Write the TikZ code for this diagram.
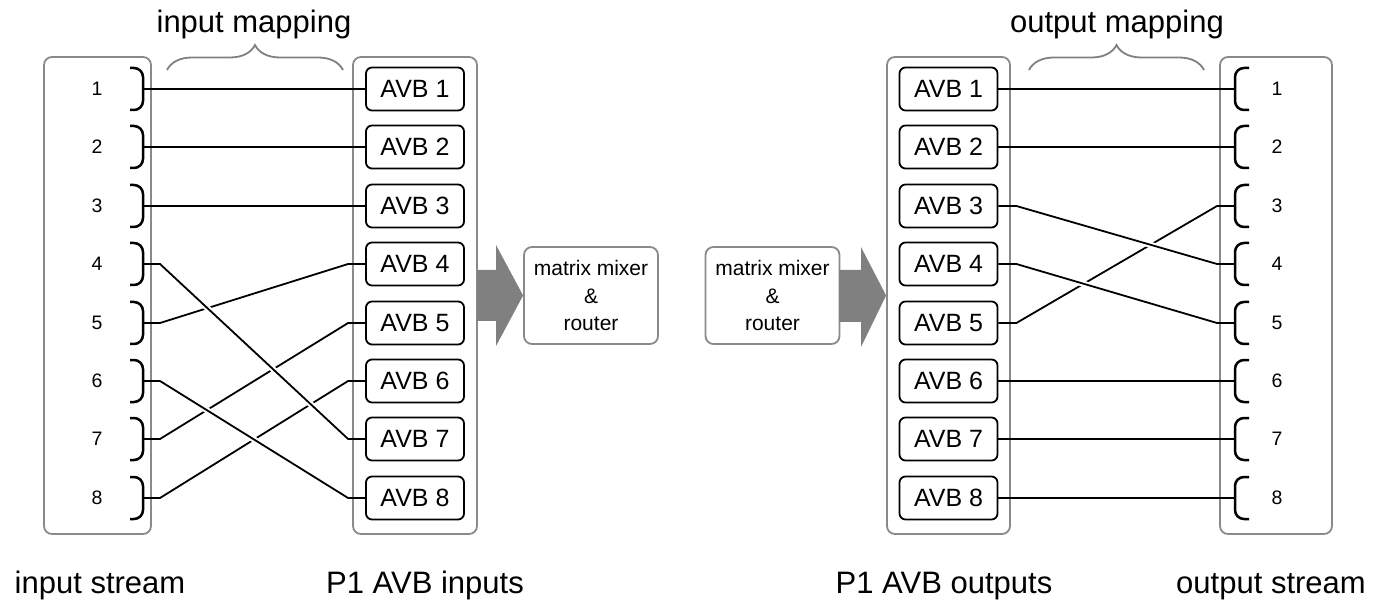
\documentclass[tikz,border=0pt]{standalone}
\usepackage{fontspec}
\setmainfont{Liberation Sans}
\usetikzlibrary{decorations.pathreplacing}
\definecolor{framegray}{HTML}{8A8A8A}
\definecolor{arrowgray}{HTML}{808080}
\definecolor{bracegray}{HTML}{808080}
\begin{document}
\begin{tikzpicture}[x=1pt,y=-1pt,
 grayframe/.style={draw=framegray, line width=1.8pt, rounded corners=8pt, inner sep=0pt},
 avb/.style={draw=black, line width=1.8pt, rounded corners=6pt, minimum width=98pt, minimum height=43pt, inner sep=0pt, font=\fontsize{25}{30}\selectfont},
 num/.style={font=\fontsize{19.5}{23}\selectfont, inner sep=0pt},
 conn/.style={line width=1.8pt},
 halo/.style={draw=white, line width=6pt},
 bracketline/.style={line width=2.5pt, rounded corners=9pt},
 bigarrow/.style={fill=arrowgray, draw=none},
 mixer/.style={draw=framegray, line width=1.8pt, rounded corners=8pt, minimum width=134pt, minimum height=97pt, inner sep=0pt, align=center, font=\fontsize{21}{27.5}\selectfont},
 title/.style={font=\fontsize{31}{37}\selectfont, anchor=base, inner sep=0pt},
 mapbrace/.style={draw=bracegray, line width=1.8pt, decorate, decoration={brace, amplitude=25pt}}
]
\useasboundingbox (0,0) rectangle (1378,601);

% outer frames
\node[grayframe, minimum width=107pt, minimum height=477pt] (instream) at (97.5,295.5) {};
\node[grayframe, minimum width=124pt, minimum height=477pt] (incol) at (415,295.5) {};
\node[grayframe, minimum width=123pt, minimum height=477pt] (outcol) at (948.5,295.5) {};
\node[grayframe, minimum width=112pt, minimum height=477pt] (outstream) at (1276,295.5) {};

% rows
\foreach \i in {1,...,8} {
  \pgfmathsetmacro\yy{round(89+58.4*(\i-1))}
  \coordinate (in\i) at (143,\yy);
  \coordinate (out\i) at (1235,\yy);
  \node[avb] (ai\i) at (415,\yy) {AVB \i};
  \node[avb] (ao\i) at (948.5,\yy) {AVB \i};
  \node[num] (ni\i) at (97,\yy) {\i};
  \node[num] (no\i) at (1277,\yy) {\i};
}

% input mapping connectors
\foreach \s/\t in {1/1,2/2,3/3,5/4,7/5,8/6,4/7,6/8} {
  \draw[halo] ([xshift=17pt]in\s) -- ([xshift=-17pt]ai\t.west);
  \draw[conn] (in\s) -- ([xshift=17pt]in\s) -- ([xshift=-17pt]ai\t.west) -- (ai\t.west);
}
% output mapping connectors
\foreach \s/\t in {1/1,2/2,5/3,3/4,4/5,6/6,7/7,8/8} {
  \draw[halo] ([xshift=18pt]ao\s.east) -- ([xshift=-18pt]out\t);
  \draw[conn] (ao\s.east) -- ([xshift=18pt]ao\s.east) -- ([xshift=-18pt]out\t) -- (out\t);
}

% brackets
\foreach \i in {1,...,8} {
  \pgfmathsetmacro\yy{round(89+58.4*(\i-1))}
  \draw[bracketline] (130,\yy-21) -- (143,\yy-21) -- (143,\yy+21) -- (130,\yy+21);
  \draw[bracketline] (1249,\yy-21) -- (1235,\yy-21) -- (1235,\yy+21) -- (1249,\yy+21);
}

% mixers
\node[mixer] (mixin) at (591,295.5) {matrix mixer\\\&\\router};
\node[mixer] (mixout) at (772.5,295.5) {matrix mixer\\\&\\router};

% big arrows
\fill[bigarrow] (477,270) -- (496,270) -- (496,245) -- (mixin.west) -- (496,346) -- (496,321) -- (477,321) -- cycle;
\fill[bigarrow] (839,270) -- (861,270) -- (861,247) -- (outcol.west) -- (861,347) -- (861,322) -- (839,322) -- cycle;

% braces
\draw[mapbrace] (167,70) -- (343,70);
\draw[mapbrace] (1029,70) -- (1204,70);

% labels
\node[title] (tin) at (254,33) {input mapping};
\node[title] (tout) at (1117,33) {output mapping};
\node[title] (lin) at (100,593) {input stream};
\node[title] (lai) at (425,593) {P1 AVB inputs};
\node[title] (lao) at (944,593) {P1 AVB outputs};
\node[title] (lout) at (1271,593) {output stream};
\end{tikzpicture}
\end{document}
